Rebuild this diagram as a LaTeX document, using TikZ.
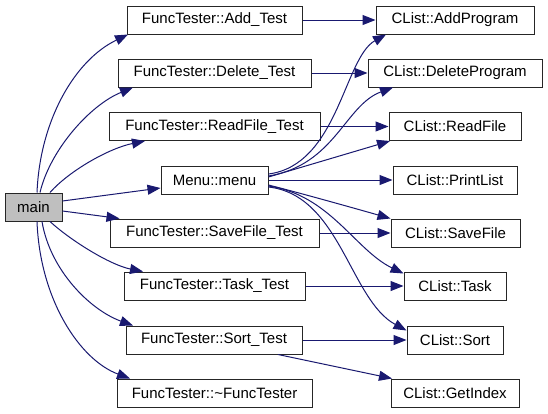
\documentclass[tikz,border=0pt]{standalone}
\usepackage{fontspec}
\setmainfont{Liberation Sans}
\usetikzlibrary{arrows.meta}
\definecolor{edgec}{HTML}{191970}
\definecolor{mainfill}{HTML}{BFBFBF}
\begin{document}
\begin{tikzpicture}[x=1pt,y=-1pt,
  box/.style={draw=black!85, line width=1pt, minimum height=28pt, inner sep=0pt,
    font=\fontsize{15}{18}\selectfont, fill=white},
  edge/.style={draw=edgec, line width=1pt, -{Triangle[length=13pt,width=10pt]}},
]
\useasboundingbox[fill=white] (0,0) rectangle (548,413);
% left
\node[box, fill=mainfill, minimum width=57pt] (main) at (33.5,207) {main};
% middle column
\node[box, minimum width=175pt] (addt)  at (214.5,20)  {FuncTester::Add\_Test};
\node[box, minimum width=193pt] (delt)  at (214.5,73)  {FuncTester::Delete\_Test};
\node[box, minimum width=211pt] (readt) at (214.5,126.5) {FuncTester::ReadFile\_Test};
\node[box, minimum width=107pt] (menu)  at (214.5,180) {Menu::menu};
\node[box, minimum width=209pt] (savet) at (214.5,233) {FuncTester::SaveFile\_Test};
\node[box, minimum width=181pt] (taskt) at (214.5,286) {FuncTester::Task\_Test};
\node[box, minimum width=176pt] (sortt) at (214,340)   {FuncTester::Sort\_Test};
\node[box, minimum width=195pt] (dtor)  at (214.5,393) {FuncTester::\textasciitilde FuncTester};
% right column
\node[box, minimum width=158pt] (addp)   at (455,20)    {CList::AddProgram};
\node[box, minimum width=174pt] (delp)   at (455,73)    {CList::DeleteProgram};
\node[box, minimum width=132pt] (readp)  at (455,126.5) {CList::ReadFile};
\node[box, minimum width=124pt] (printp) at (455,180)   {CList::PrintList};
\node[box, minimum width=129pt] (savep)  at (455.5,233) {CList::SaveFile};
\node[box, minimum width=102pt] (taskp)  at (455,286)   {CList::Task};
\node[box, minimum width=96pt]  (sortp)  at (455,340)   {CList::Sort};
\node[box, minimum width=128pt] (getp)   at (455,393)   {CList::GetIndex};
% main -> middle
\draw[edge] ([xshift=3.5pt]main.north) .. controls (40,120) and (75,60) .. ([xshift=-86.5pt]addt.south);
\draw[edge] ([xshift=6.5pt]main.north) .. controls (50,150) and (90,105) .. ([xshift=-81.5pt]delt.south);
\draw[edge] ([xshift=16.5pt]main.north) .. controls (70,170) and (110,148) .. ([xshift=-69.5pt]readt.south);
\draw[edge] ([yshift=6pt]main.east) -- ([yshift=-8pt]menu.west);
\draw[edge] ([yshift=-4pt]main.east) -- ([xshift=-95pt]savet.north);
\draw[edge] ([xshift=16.5pt]main.south) .. controls (70,240) and (110,265) .. ([xshift=-71.5pt]taskt.north);
\draw[edge] ([xshift=8.5pt]main.south) .. controls (50,270) and (90,310) .. ([xshift=-81pt]sortt.north);
\draw[edge] ([xshift=3.5pt]main.south) .. controls (40,300) and (80,360) .. ([xshift=-84.5pt]dtor.north);
% middle -> right
\draw[edge] (addt) -- (addp);
\draw[edge] (delt) -- (delp);
\draw[edge] (readt) -- (readp);
\draw[edge] (savet) -- (savep);
\draw[edge] (taskt) -- (taskp);
\draw[edge] (sortt) -- (sortp);
\draw[edge] ([xshift=64pt]sortt.south) -- ([xshift=-63pt]getp.north);
% menu -> right
\draw[edge] ([yshift=6pt]menu.east) .. controls (338,165) and (344,58) .. ([xshift=-69pt]addp.south);
\draw[edge] ([yshift=4pt]menu.east) .. controls (335,165) and (345,105) .. ([xshift=-62pt]delp.south);
\draw[edge] ([yshift=3pt]menu.east) -- ([xshift=-65pt]readp.south);
\draw[edge] (menu.east) -- (printp.west);
\draw[edge] ([yshift=-5pt]menu.east) .. controls (300,193) and (350,207) .. ([xshift=-65pt]savep.north);
\draw[edge] ([yshift=-6pt]menu.east) .. controls (330,195) and (355,250) .. ([yshift=-2pt]taskp.north west);
\draw[edge] ([yshift=-7pt]menu.east) .. controls (340,195) and (350,300) .. ([yshift=-5pt]sortp.north west);
\end{tikzpicture}
\end{document}
